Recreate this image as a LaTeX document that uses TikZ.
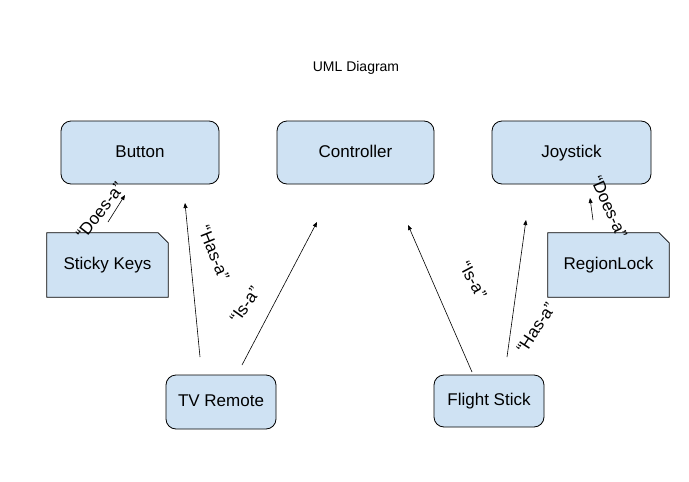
\documentclass[tikz,border=0pt]{standalone}
\usepackage{fontspec}
\setmainfont{Liberation Sans}
\usetikzlibrary{arrows.meta}
\definecolor{boxfill}{HTML}{CFE2F3}
\begin{document}
\begin{tikzpicture}[x=1pt,y=-1pt,
  rbox/.style={draw=black,line width=0.8pt,fill=boxfill,rounded corners=10pt,inner sep=0pt,text height=12.5pt,text depth=3.5pt,font=\fontsize{17}{20}\selectfont},
  notetext/.style={inner sep=0pt,text height=12.5pt,text depth=3.5pt,font=\fontsize{17}{20}\selectfont},
  lbl/.style={inner sep=0pt,font=\fontsize{17}{20}\selectfont},
  conn/.style={line width=0.6pt,-{Triangle[length=5pt,width=4pt]}}]
\useasboundingbox[fill=white] (0,0) rectangle (689,482);
\node[inner sep=0pt,font=\fontsize{14}{16}\selectfont] (title) at (356,68) {UML Diagram};
\node[rbox,minimum width=158pt,minimum height=63pt] (button) at (140,152.5) {Button};
\node[rbox,minimum width=157pt,minimum height=63pt] (controller) at (355.5,152.5) {Controller};
\node[rbox,minimum width=159pt,minimum height=63pt] (joystick) at (571.5,152.5) {Joystick};
\node[rbox,minimum width=110pt,minimum height=54pt] (tvremote) at (221,402) {TV Remote};
\node[rbox,minimum width=110pt,minimum height=52pt] (flightstick) at (489,401) {Flight Stick};
% notes with folded corner
\node[inner sep=0pt,minimum width=121pt,minimum height=64pt] (sticky) at (107.5,265) {};
\draw[line width=0.8pt,fill=boxfill] (sticky.north west) -- ([xshift=-10pt]sticky.north east) -- ([yshift=-10pt]sticky.north east) -- (sticky.south east) -- (sticky.south west) -- cycle;
\node[notetext] (stickytext) at (sticky) {Sticky Keys};
\node[inner sep=0pt,minimum width=121pt,minimum height=64pt] (region) at (608.5,265) {};
\draw[line width=0.8pt,fill=boxfill] (region.north west) -- ([xshift=-10pt]region.north east) -- ([yshift=-10pt]region.north east) -- (region.south east) -- (region.south west) -- cycle;
\node[notetext] (regiontext) at (region) {RegionLock};
% connector end points
\coordinate (s1) at (108,222); \coordinate (e1) at (125,195);
\coordinate (s2) at (200,357); \coordinate (e2) at (185,203);
\coordinate (s3) at (242,365); \coordinate (e3) at (317,222);
\coordinate (s4) at (472,372); \coordinate (e4) at (408,225);
\coordinate (s5) at (507,357); \coordinate (e5) at (526,220);
\coordinate (s6) at (593,220); \coordinate (e6) at (590,198);
\draw[conn] (s1) -- (e1);
\draw[conn] (s2) -- (e2);
\draw[conn] (s3) -- (e3);
\draw[conn] (s4) -- (e4);
\draw[conn] (s5) -- (e5);
\draw[conn] (s6) -- (e6);
% labels
\node[lbl,rotate=52] (l1) at (100,211) {“Does-a”};
\node[lbl,rotate=-68] (l2) at (214,253) {“Has-a”};
\node[lbl,rotate=55] (l3) at (245,305) {“Is-a”};
\node[lbl,rotate=-62] (l4) at (473,280) {“Is-a”};
\node[lbl,rotate=57] (l5) at (536,328) {“Has-a”};
\node[lbl,rotate=-66] (l6) at (609,207) {“Does-a”};
\end{tikzpicture}
\end{document}
